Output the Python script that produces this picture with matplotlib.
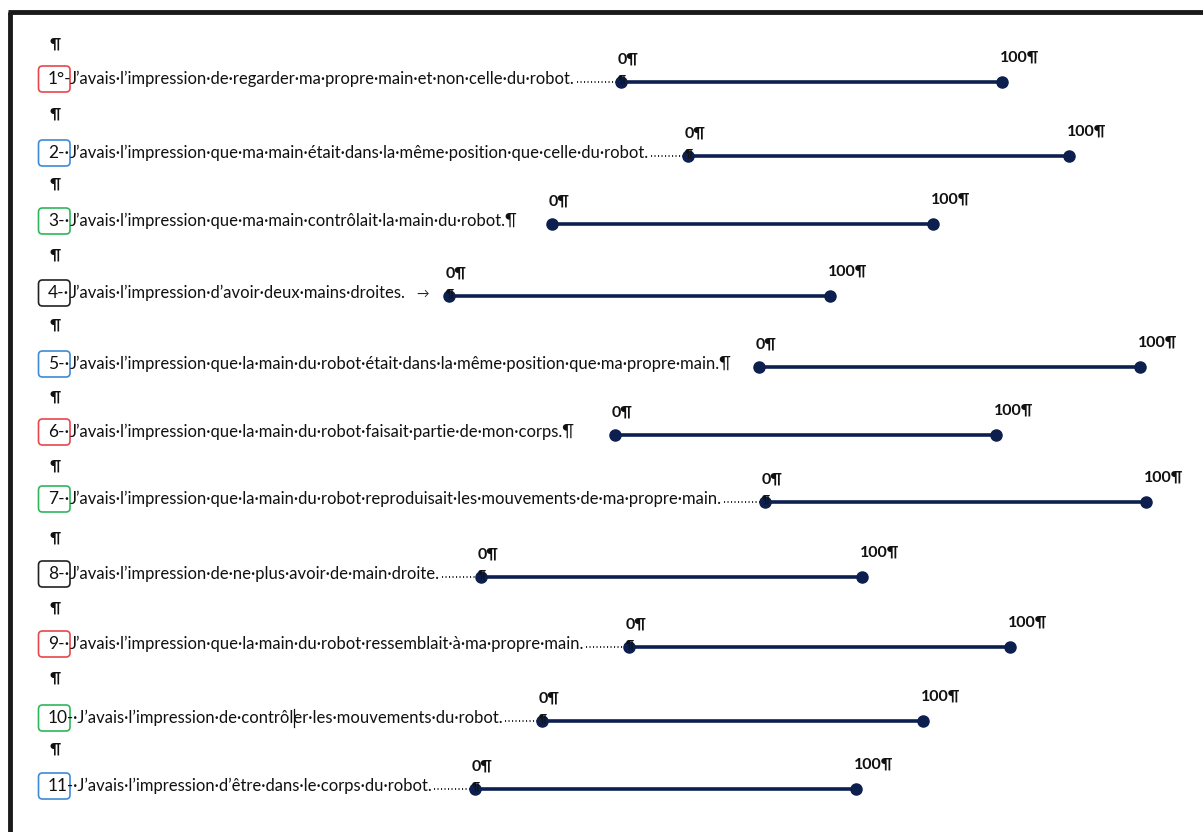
import matplotlib
matplotlib.use("Agg")
import matplotlib.pyplot as plt
from matplotlib.patches import FancyBboxPatch

# numéros des items et leur texte
numeros = ["1°-", "2-·", "3-·", "4-·", "5-·", "6-·", "7-·", "8-·", "9-·", "10", "11"]
phrases = [
    "J’avais·l’impression·de·regarder·ma·propre·main·et·non·celle·du·robot.",
    "J’avais·l’impression·que·ma·main·était·dans·la·même·position·que·celle·du·robot.",
    "J’avais·l’impression·que·ma·main·contrôlait·la·main·du·robot.¶",
    "J’avais·l’impression·d’avoir·deux·mains·droites.",
    "J’avais·l’impression·que·la·main·du·robot·était·dans·la·même·position·que·ma·propre·main.¶",
    "J’avais·l’impression·que·la·main·du·robot·faisait·partie·de·mon·corps.¶",
    "J’avais·l’impression·que·la·main·du·robot·reproduisait·les·mouvements·de·ma·propre·main.",
    "J’avais·l’impression·de·ne·plus·avoir·de·main·droite.",
    "J’avais·l’impression·que·la·main·du·robot·ressemblait·à·ma·propre·main.",
    "-·J’avais·l’impression·de·contrôler·les·mouvements·du·robot.",
    "-·J’avais·l’impression·d’être·dans·le·corps·du·robot.",
]
couleurs_cadre = ["#e8464a", "#3d8ad6", "#2fb55a", "#222222", "#3d8ad6", "#e8464a",
                  "#2fb55a", "#222222", "#e8464a", "#2fb55a", "#3d8ad6"]
# fin de ligne : pointillés, tabulation ou rien
fin_ligne = ["dots", "dots", "none", "tab", "none", "none", "dots", "dots", "dots", "dots", "dots"]

# échelles 0-100 (position de départ en pixels)
echelle_min = 0
echelle_max = 100
debut_echelle = [621, 688, 552, 449, 759, 615, 765, 481, 629, 542, 475]

lignes_y = [82, 156, 224, 296, 367, 435, 502, 577, 647, 721, 789]
pilcrow_y = [45, 115, 185, 256, 326, 398, 467, 539, 609, 679, 750]

W, H = 1203, 832
fig = plt.figure(figsize=(W / 100, H / 100), dpi=100)
ax = fig.add_axes([0, 0, 1, 1])
ax.set_xlim(0, W)
ax.set_ylim(H, 0)
ax.axis("off")

police = "Lato"
px_par_unite = 3.81  # largeur de l'échelle en pixels pour 1 point sur 100

# bordure de la page
ax.plot([9.5, 9.5], [12, H], color="#1a1a1a", lw=3.5, solid_capstyle="butt")
ax.plot([8, W], [12, 12], color="#1a1a1a", lw=3.5, solid_capstyle="butt")

fig.canvas.draw()
rend = fig.canvas.get_renderer()

for i in range(len(phrases)):
    y = lignes_y[i] - 3
    ax.text(55, pilcrow_y[i], "¶", fontsize=11, fontweight="bold", family=police,
            ha="center", va="center", color="#111111")

    cadre = FancyBboxPatch((38.5, y - 13), 31.5, 26, boxstyle="round,pad=0,rounding_size=4",
                           fc="none", ec=couleurs_cadre[i], lw=1.2)
    ax.add_patch(cadre)
    ax.text(48, y, numeros[i], fontsize=12.5, family=police,
            ha="left", va="center", color="#111111")
    t = ax.text(70 if i < 9 else 67, y, phrases[i], fontsize=12, family=police,
                ha="left", va="center", color="#111111")

    x0 = debut_echelle[i]
    x1 = x0 + (echelle_max - echelle_min) * px_par_unite

    bb = t.get_window_extent(renderer=rend)
    fin_texte = bb.x1
    if fin_ligne[i] == "dots":
        ax.plot([fin_texte + 2, x0 - 4], [y + 3, y + 3], color="#222222", lw=1.4,
                linestyle=(0, (0.55, 1.25)))
    elif fin_ligne[i] == "tab":
        ax.text(fin_texte + 17, y + 1, "→", fontsize=9, family=[police, "DejaVu Sans"],
                ha="center", va="center", color="#222222")
    if fin_ligne[i] in ("dots", "tab"):
        ax.text(x0 + 1, lignes_y[i] - 3, "¶", fontsize=8, fontweight="bold", family=police,
                ha="center", va="center", color="#111111")

    ax.plot([x0, x1], [lignes_y[i], lignes_y[i]], color="#0c1f4f", lw=2.6,
            marker="o", markersize=8, markerfacecolor="#0c1f4f", markeredgecolor="#0c1f4f",
            solid_capstyle="round")
    ax.text(x0 - 3, lignes_y[i] - 22, f"{echelle_min}¶", fontsize=11.5, fontweight="bold",
            family=police, ha="left", va="center", color="#111111")
    ax.text(x1 - 2, lignes_y[i] - 24, f"{echelle_max}¶", fontsize=11.5, fontweight="bold",
            family=police, ha="left", va="center", color="#111111")

# curseur de saisie dans l'item 10
ax.plot([294, 294], [709, 727], color="#111111", lw=0.9)

fig.savefig("out.png", dpi=100)
